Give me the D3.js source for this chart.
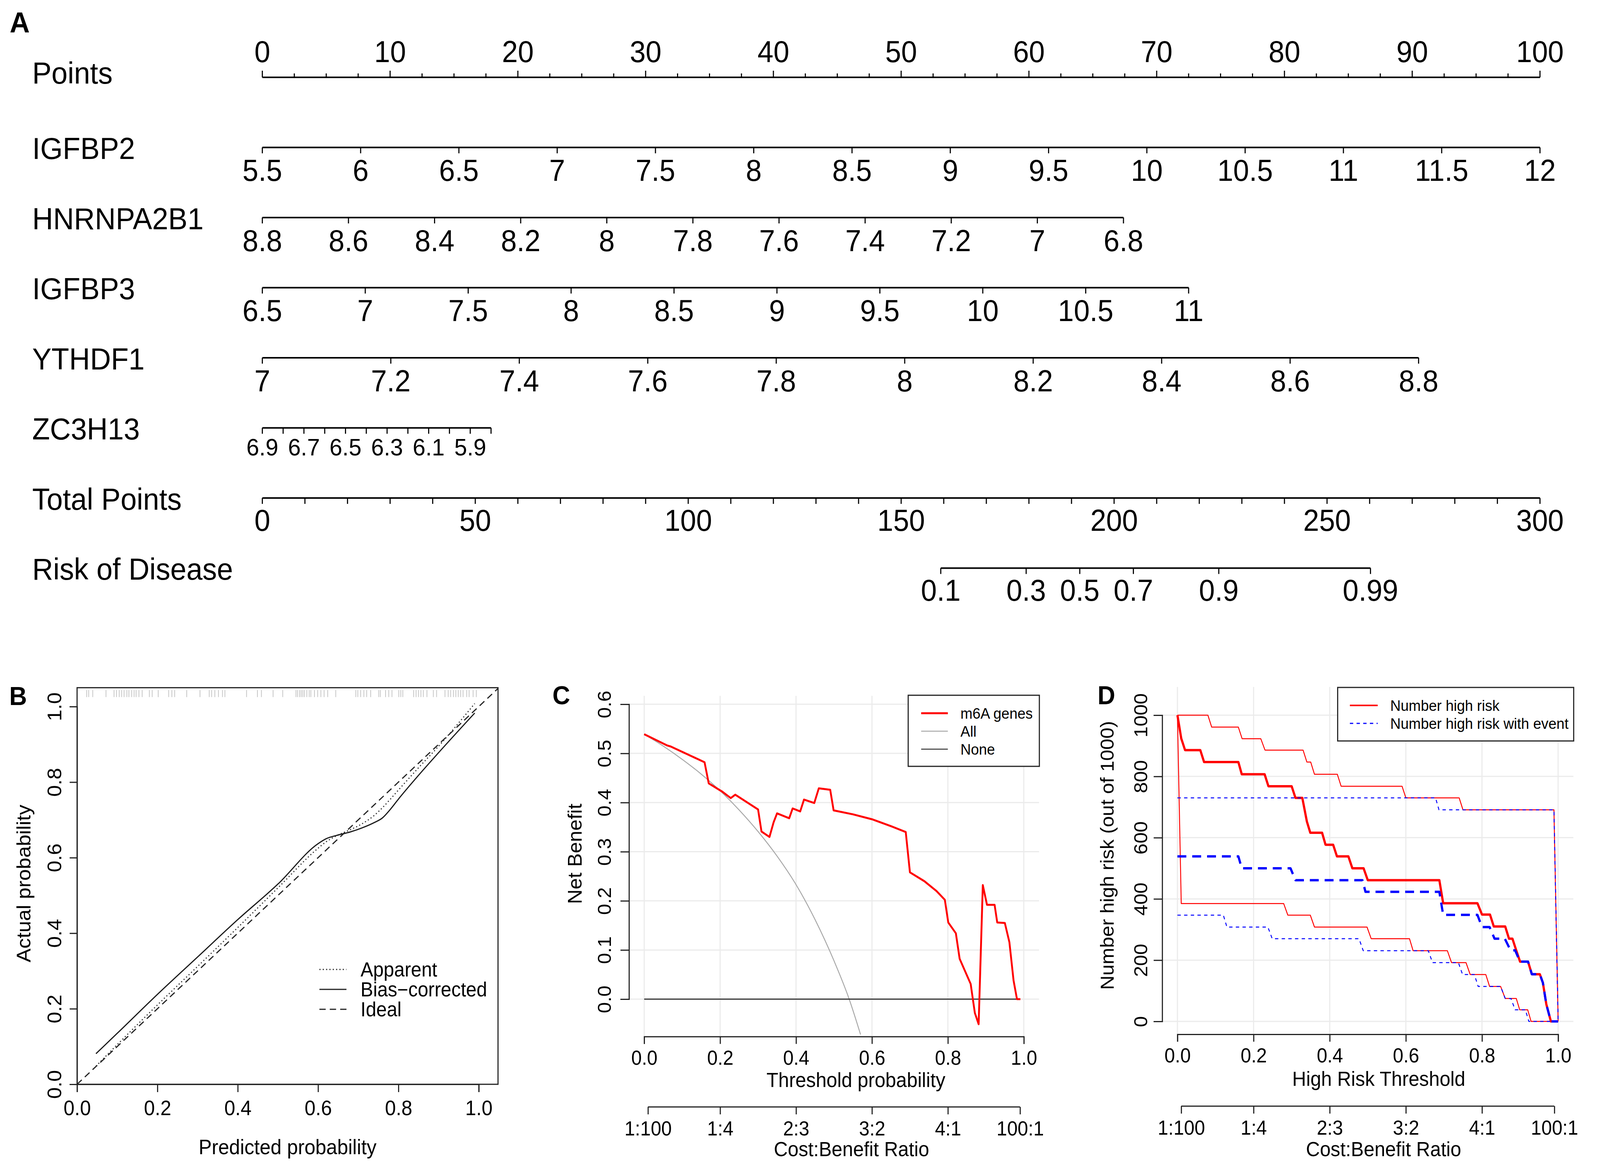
<!DOCTYPE html>
<html>
<head>
<meta charset="utf-8">
<script src="https://cdn.jsdelivr.net/npm/d3@7"></script>
<style>
  html, body { margin: 0; padding: 0; background: #fff; overflow: hidden; }
  #chart svg { display: block; width: 100vw; height: 100vh; }
</style>
</head>
<body>
<div id="chart"></div>
<script>
const FONT = '"Liberation Sans", Arial, Helvetica, sans-serif';

/* ---------- A: nomogram ---------- */
const rowNames = ["Points", "IGFBP2", "HNRNPA2B1", "IGFBP3", "YTHDF1", "ZC3H13", "Total Points", "Risk of Disease"];
const pointTicks = [0, 10, 20, 30, 40, 50, 60, 70, 80, 90, 100];
const pointMinorTicks = [0, 2.5, 5, 7.5, 10, 12.5, 15, 17.5, 20, 22.5, 25, 27.5, 30, 32.5, 35, 37.5, 40, 42.5, 45, 47.5, 50,
  52.5, 55, 57.5, 60, 62.5, 65, 67.5, 70, 72.5, 75, 77.5, 80, 82.5, 85, 87.5, 90, 92.5, 95, 97.5, 100];

const igfbp2Ticks = [5.5, 6, 6.5, 7, 7.5, 8, 8.5, 9, 9.5, 10, 10.5, 11, 11.5, 12];
const igfbp2Span = [5.5, 12];
const igfbp2Points = [0, 100];
const hnrnpTicks = [8.8, 8.6, 8.4, 8.2, 8, 7.8, 7.6, 7.4, 7.2, 7, 6.8];
const hnrnpSpan = [8.8, 6.8];
const hnrnpPoints = [0, 67.4];
const igfbp3Ticks = [6.5, 7, 7.5, 8, 8.5, 9, 9.5, 10, 10.5, 11];
const igfbp3Span = [6.5, 11];
const igfbp3Points = [0, 72.5];
const ythdf1Ticks = [7, 7.2, 7.4, 7.6, 7.8, 8, 8.2, 8.4, 8.6, 8.8];
const ythdf1Span = [7, 8.8];
const ythdf1Points = [0, 90.5];
const zc3h13Ticks = [6.9, 6.8, 6.7, 6.6, 6.5, 6.4, 6.3, 6.2, 6.1, 6.0, 5.9, 5.8];
const zc3h13Labels = [6.9, 6.7, 6.5, 6.3, 6.1, 5.9];
const zc3h13Span = [6.9, 5.8];
const zc3h13Points = [0, 17.9];
const totalTicks = [0, 10, 20, 30, 40, 50, 60, 70, 80, 90, 100, 110, 120, 130, 140, 150, 160, 170, 180, 190, 200,
  210, 220, 230, 240, 250, 260, 270, 280, 290, 300];
const totalLabels = [0, 50, 100, 150, 200, 250, 300];
const riskTicks = [0.1, 0.3, 0.5, 0.7, 0.9, 0.99];
const riskTotalAt = [159.3, 260.2]; // total points at risk 0.1 and 0.99

/* ---------- B: calibration ---------- */
const calPred = [0.047, 0.1, 0.2, 0.3, 0.4, 0.5, 0.6, 0.62, 0.65, 0.68, 0.71, 0.74, 0.76, 0.78, 0.8, 0.85, 0.9, 0.99];
const calBias = [0.081, 0.135, 0.238, 0.337, 0.436, 0.530, 0.637, 0.650, 0.660, 0.668, 0.679, 0.693, 0.705, 0.728,
  0.755, 0.818, 0.878, 0.983];
const calApparent = [0.048, 0.105, 0.21, 0.312, 0.415, 0.52, 0.625, 0.642, 0.66, 0.674, 0.69, 0.712, 0.732, 0.755,
  0.779, 0.838, 0.895, 1.008];
const idealLine = [0, 1.048];
const rugPred = [0.024, 0.029, 0.039, 0.072, 0.092, 0.098, 0.105, 0.111, 0.117, 0.124, 0.129, 0.136, 0.142, 0.147, 0.154,
  0.162, 0.180, 0.187, 0.202, 0.228, 0.236, 0.243, 0.273, 0.306, 0.329, 0.335, 0.343, 0.352, 0.362, 0.368, 0.422, 0.449,
  0.459, 0.488, 0.512, 0.545, 0.549, 0.554, 0.558, 0.562, 0.566, 0.572, 0.578, 0.582, 0.591, 0.599, 0.607, 0.615, 0.624,
  0.644, 0.694, 0.699, 0.706, 0.714, 0.721, 0.731, 0.751, 0.755, 0.768, 0.776, 0.784, 0.801, 0.806, 0.811, 0.838, 0.844,
  0.850, 0.856, 0.862, 0.871, 0.887, 0.895, 0.916, 0.924, 0.930, 0.937, 0.943, 0.949, 0.955, 0.961, 0.970, 0.976, 0.986, 0.994];
const calLegend = ["Apparent", "Bias\u2212corrected", "Ideal"];

/* ---------- C: decision curve ---------- */
const thrTicks = [0, 0.2, 0.4, 0.6, 0.8, 1.0];
const nbTicks = [0, 0.1, 0.2, 0.3, 0.4, 0.5, 0.6];
const modelT = [0, 0.061, 0.070, 0.159, 0.170, 0.206, 0.228, 0.240, 0.300, 0.309, 0.330, 0.341, 0.350, 0.382, 0.391, 0.411,
  0.421, 0.448, 0.460, 0.490, 0.499, 0.55, 0.60, 0.65, 0.689, 0.700, 0.738, 0.770, 0.792, 0.801, 0.821, 0.831, 0.860,
  0.871, 0.881, 0.892, 0.903, 0.923, 0.930, 0.950, 0.962, 0.973, 0.982, 0.991];
const modelNB = [0.539, 0.516, 0.514, 0.482, 0.439, 0.422, 0.409, 0.416, 0.386, 0.341, 0.330, 0.360, 0.378, 0.368, 0.388,
  0.382, 0.406, 0.399, 0.429, 0.426, 0.384, 0.376, 0.366, 0.352, 0.340, 0.258, 0.240, 0.220, 0.202, 0.156, 0.134, 0.082,
  0.031, -0.028, -0.051, 0.232, 0.192, 0.192, 0.156, 0.155, 0.116, 0.038, 0, 0];
const allT = [0, 0.05, 0.1, 0.15, 0.2, 0.25, 0.3, 0.35, 0.4, 0.45, 0.5, 0.54, 0.57];
const allNB = [0.539, 0.515, 0.488, 0.458, 0.424, 0.385, 0.341, 0.291, 0.233, 0.162, 0.078, 0.0, -0.072];
const noneT = [0, 0.99];
const noneNB = [0, 0];
const dcaLegend = ["m6A genes", "All", "None"];
const costLabels = ["1:100", "1:4", "2:3", "3:2", "4:1", "100:1"];
const costRatios = [[1, 100], [1, 4], [2, 3], [3, 2], [4, 1], [100, 1]];

/* ---------- D: clinical impact ---------- */
const countTicks = [0, 200, 400, 600, 800, 1000];
const highT = [0, 0.01, 0.02, 0.06, 0.07, 0.16, 0.169, 0.229, 0.239, 0.30, 0.31, 0.328, 0.34, 0.349, 0.38, 0.389, 0.409,
  0.419, 0.449, 0.4595, 0.489, 0.50, 0.688, 0.698, 0.788, 0.80, 0.821, 0.831, 0.861, 0.871, 0.88, 0.89, 0.90, 0.921,
  0.931, 0.952, 0.96, 0.969, 0.981, 1.0];
const highN = [1000, 924, 886, 886, 847, 847, 807, 807, 768, 768, 730, 730, 653, 616, 616, 577, 577, 539, 539, 500, 500,
  461, 461, 386, 386, 349, 349, 310, 310, 270, 270, 232, 195, 195, 154, 154, 126, 56, 0, 0];
const eventT = [0, 0.16, 0.169, 0.297, 0.31, 0.486, 0.494, 0.688, 0.698, 0.788, 0.80, 0.82, 0.833, 0.86, 0.875, 0.887,
  0.90, 0.921, 0.931, 0.952, 0.96, 0.969, 0.981, 1.0];
const eventN = [539, 539, 500, 500, 461, 461, 423, 423, 348, 348, 308, 308, 270, 270, 232, 232, 195, 195, 154, 154, 126,
  56, 0, 0];
const highUpT = [0, 0.08, 0.09, 0.16, 0.17, 0.219, 0.23, 0.33, 0.34, 0.35, 0.36, 0.42, 0.43, 0.59, 0.60, 0.74, 0.75, 0.989, 1.0];
const highUpN = [1000, 1000, 961, 961, 923, 923, 886, 886, 847, 847, 807, 807, 768, 768, 730, 730, 691, 691, 0];
const highLoT = [0, 0.01, 0.279, 0.29, 0.349, 0.36, 0.498, 0.509, 0.6096, 0.619, 0.709, 0.72, 0.758, 0.769, 0.81, 0.82,
  0.849, 0.861, 0.89, 0.899, 0.92, 0.929, 1.0];
const highLoN = [1000, 385, 385, 347, 347, 308, 308, 270, 270, 231, 231, 192, 192, 153, 153, 114, 114, 75, 75, 38, 38, 0, 0];
const eventUpT = [0, 0.678, 0.687, 0.989, 1.0];
const eventUpN = [730, 730, 691, 691, 0];
const eventLoT = [0, 0.1206, 0.13, 0.2376, 0.249, 0.477, 0.488, 0.659, 0.67, 0.738, 0.749, 0.78, 0.79, 0.849, 0.861,
  0.876, 0.887, 0.914, 0.923, 1.0];
const eventLoN = [347, 347, 308, 308, 270, 270, 231, 231, 192, 192, 153, 153, 114, 114, 75, 75, 38, 38, 0, 0];
const impactLegend = ["Number high risk", "Number high risk with event"];

const svg = d3
  .select("#chart")
  .append("svg")
  .attr("viewBox", "0 0 4318 2998")
  .attr("preserveAspectRatio", "none")
  .style("font-family", FONT);

drawNomogram();
drawCalibration();
drawDecision();
drawImpact();

function panelLetter(txt, x, y, size) {
  svg.append("text")
    .attr("x", x).attr("y", y)
    .attr("font-size", size)
    .attr("font-weight", "bold")
    .text(txt);
}

function scaleRow(y, pos, ticks, labels, fs, dy) {
  const g = svg.append("g").attr("transform", `translate(0, ${y})`);
  const xs = ticks.map(pos);
  g.append("line")
    .attr("x1", d3.min(xs)).attr("x2", d3.max(xs))
    .attr("stroke", "#000").attr("stroke-width", 4);
  g.selectAll("line.tick")
    .data(ticks)
    .join("line")
    .attr("class", "tick")
    .attr("x1", pos).attr("x2", pos)
    .attr("y1", 0).attr("y2", 15)
    .attr("stroke", "#000").attr("stroke-width", 3);
  g.selectAll("text")
    .data(labels)
    .join("text")
    .attr("x", pos)
    .attr("y", dy)
    .attr("text-anchor", "middle")
    .attr("font-size", fs)
    .text((d) => d);
}

function drawNomogram() {
  const xPts = d3.scaleLinear().domain([0, 100]).range([708, 4156]);
  const xTot = d3.scaleLinear().domain([0, 300]).range([708, 4156]);
  const rowY = (i) => 198 + i * 179.5;

  panelLetter("A", 26, 83, 75);

  svg.append("g")
    .selectAll("text")
    .data(rowNames)
    .join("text")
    .attr("x", 87)
    .attr("y", (d, i) => rowY(i) + (i === 0 ? 16 : 30))
    .attr("font-size", 78)
    .text((d) => d);

  /* Points */
  const g0 = svg.append("g").attr("transform", `translate(0, ${rowY(0)})`);
  g0.append("line")
    .attr("x1", xPts(0)).attr("x2", xPts(100))
    .attr("stroke", "#000").attr("stroke-width", 4);
  g0.selectAll("line.tick")
    .data(pointMinorTicks)
    .join("line")
    .attr("class", "tick")
    .attr("x1", xPts).attr("x2", xPts)
    .attr("y1", 0)
    .attr("y2", (d) => (pointTicks.includes(d) ? -17 : -10))
    .attr("stroke", "#000").attr("stroke-width", 3);
  g0.selectAll("text")
    .data(pointTicks)
    .join("text")
    .attr("x", xPts)
    .attr("y", -39)
    .attr("text-anchor", "middle")
    .attr("font-size", 77)
    .text((d) => d);

  const vars = [
    { ticks: igfbp2Ticks, labels: igfbp2Ticks, span: igfbp2Span, pts: igfbp2Points },
    { ticks: hnrnpTicks, labels: hnrnpTicks, span: hnrnpSpan, pts: hnrnpPoints },
    { ticks: igfbp3Ticks, labels: igfbp3Ticks, span: igfbp3Span, pts: igfbp3Points },
    { ticks: ythdf1Ticks, labels: ythdf1Ticks, span: ythdf1Span, pts: ythdf1Points },
    { ticks: zc3h13Ticks, labels: zc3h13Labels, span: zc3h13Span, pts: zc3h13Points },
  ];
  vars.forEach((v, k) => {
    const sc = d3.scaleLinear().domain(v.span).range(v.pts.map(xPts));
    const small = k === 4;
    scaleRow(rowY(k + 1), sc, v.ticks, v.labels, small ? 62 : 77, small ? 71 : 86);
  });

  /* Total points */
  scaleRow(rowY(6), xTot, totalTicks, totalLabels, 77, 84);

  /* Risk, on the logit of the probability */
  const logit = (p) => Math.log(p / (1 - p));
  const xRisk = d3.scaleLinear()
    .domain([logit(0.1), logit(0.99)])
    .range(riskTotalAt.map(xTot));
  scaleRow(rowY(7), (p) => xRisk(logit(p)), riskTicks, riskTicks, 77, 84);
}

function styleAxis(g, fs) {
  g.attr("font-size", fs).attr("font-family", FONT);
  g.selectAll("line, path").attr("stroke", "#222").attr("stroke-width", 3);
}

function drawCalibration() {
  const x = d3.scaleLinear().domain([0, 1]).range([208, 1292]);
  const y = d3.scaleLinear().domain([0, 1]).range([2776, 1809]);
  const xl = [0, 1.048];
  const yl = [0, 1.05];

  panelLetter("B", 25, 1805, 66);

  /* rug of predicted values */
  svg.append("g")
    .selectAll("line")
    .data(rugPred)
    .join("line")
    .attr("x1", x).attr("x2", x)
    .attr("y1", y(yl[1]) + 6).attr("y2", y(yl[1]) + 24)
    .attr("stroke", "#c4c4c4").attr("stroke-width", 2);

  const line = d3.line().x((d) => x(d[0])).y((d) => y(d[1]));

  svg.append("path")
    .datum(idealLine.map((d) => [d, d]))
    .attr("fill", "none").attr("stroke", "#222").attr("stroke-width", 3)
    .attr("stroke-dasharray", "17,11")
    .attr("d", line);
  svg.append("path")
    .datum(calPred.map((d, i) => [d, calApparent[i]]))
    .attr("fill", "none").attr("stroke", "#333").attr("stroke-width", 3)
    .attr("stroke-dasharray", "3,6")
    .attr("d", line.curve(d3.curveMonotoneX));
  svg.append("path")
    .datum(calPred.map((d, i) => [d, calBias[i]]))
    .attr("fill", "none").attr("stroke", "#1a1a1a").attr("stroke-width", 3)
    .attr("d", line.curve(d3.curveMonotoneX));

  svg.append("rect")
    .attr("x", x(xl[0])).attr("y", y(yl[1]))
    .attr("width", x(xl[1]) - x(xl[0]))
    .attr("height", y(yl[0]) - y(yl[1]))
    .attr("fill", "none").attr("stroke", "#222").attr("stroke-width", 3);

  svg.append("g")
    .attr("transform", `translate(0, ${y(0)})`)
    .call(d3.axisBottom(x).tickValues(thrTicks).tickSize(20).tickFormat(d3.format(".1f")))
    .call((g) => styleAxis(g, 53))
    .call((g) => g.selectAll("text").attr("y", 79).attr("dy", null));

  svg.append("g")
    .attr("transform", `translate(${x(0)}, 0)`)
    .call(d3.axisLeft(y).tickValues(thrTicks).tickSize(20).tickFormat(d3.format(".1f")))
    .call((g) => styleAxis(g, 53))
    .call((g) => g.selectAll("text")
      .attr("x", null).attr("dy", null)
      .attr("text-anchor", "middle")
      .attr("transform", "translate(-43, 0) rotate(-90)"));

  svg.append("text")
    .attr("x", 776).attr("y", 2955)
    .attr("text-anchor", "middle").attr("font-size", 53)
    .text("Predicted probability");
  svg.append("text")
    .attr("transform", "translate(82, 2262) rotate(-90)")
    .attr("text-anchor", "middle").attr("font-size", 53)
    .text("Actual probability");

  /* legend */
  const dashes = ["3,6", null, "17,11"];
  const lg = svg.append("g").selectAll("g").data(calLegend).join("g")
    .attr("transform", (d, i) => `translate(0, ${2482 + i * 51})`);
  lg.append("line")
    .attr("x1", 862).attr("x2", 935)
    .attr("stroke", "#222").attr("stroke-width", 3)
    .attr("stroke-dasharray", (d, i) => dashes[i]);
  lg.append("text")
    .attr("x", 973).attr("y", 18)
    .attr("font-size", 51)
    .text((d) => d);
}

function costAxis(x, yPos, labelY) {
  const costP = costRatios.map((r) => r[0] / (r[0] + r[1]));
  svg.append("g")
    .attr("transform", `translate(0, ${yPos})`)
    .call(d3.axisBottom(x).tickValues(costP).tickSize(19).tickFormat((d, i) => costLabels[i]))
    .call((g) => g.select(".domain").remove())
    .call((g) => styleAxis(g, 51))
    .call((g) => g.selectAll("text").attr("y", labelY).attr("dy", null))
    .append("line")
    .attr("x1", x(costP[0])).attr("x2", x(costP[costP.length - 1]))
    .attr("stroke", "#222").attr("stroke-width", 3);
}

function drawDecision() {
  const x = d3.scaleLinear().domain([0, 1]).range([1738.5, 2763]);
  const y = d3.scaleLinear().domain([0, 0.6]).range([2558, 1803]);
  const xl = [-0.04, 1.04];
  const yl = [-0.076, 0.617];

  panelLetter("C", 1491, 1803, 66);

  /* grid */
  const grid = svg.append("g").attr("stroke", "#ebebeb").attr("stroke-width", 3);
  grid.selectAll("line.v").data(thrTicks).join("line").attr("class", "v")
    .attr("x1", x).attr("x2", x).attr("y1", y(yl[0])).attr("y2", y(yl[1]));
  grid.selectAll("line.h").data(nbTicks).join("line").attr("class", "h")
    .attr("x1", x(xl[0])).attr("x2", x(xl[1])).attr("y1", y).attr("y2", y);

  svg.append("clipPath").attr("id", "clipC")
    .append("rect")
    .attr("x", x(xl[0])).attr("y", y(yl[1]) - 40)
    .attr("width", x(xl[1]) - x(xl[0]))
    .attr("height", y(yl[0]) - y(yl[1]) + 40);

  const line = d3.line().x((d) => x(d[0])).y((d) => y(d[1]));

  svg.append("path")
    .datum(allT.map((d, i) => [d, allNB[i]]))
    .attr("clip-path", "url(#clipC)")
    .attr("fill", "none").attr("stroke", "#a8a8a8").attr("stroke-width", 2.5)
    .attr("d", d3.line().x((d) => x(d[0])).y((d) => y(d[1])).curve(d3.curveMonotoneX));
  svg.append("path")
    .datum(noneT.map((d, i) => [d, noneNB[i]]))
    .attr("fill", "none").attr("stroke", "#333").attr("stroke-width", 3)
    .attr("d", line);
  svg.append("path")
    .datum(modelT.map((d, i) => [d, modelNB[i]]))
    .attr("fill", "none").attr("stroke", "#ff0000").attr("stroke-width", 5)
    .attr("stroke-linejoin", "round")
    .attr("d", line);

  svg.append("g")
    .attr("transform", `translate(0, ${y(yl[0])})`)
    .call(d3.axisBottom(x).tickValues(thrTicks).tickSize(19).tickFormat(d3.format(".1f")))
    .call((g) => styleAxis(g, 51))
    .call((g) => g.selectAll("text").attr("y", 72).attr("dy", null));

  svg.append("g")
    .attr("transform", `translate(${x(xl[0])}, 0)`)
    .call(d3.axisLeft(y).tickValues(nbTicks).tickSize(23).tickFormat(d3.format(".1f")))
    .call((g) => styleAxis(g, 51))
    .call((g) => g.selectAll("text")
      .attr("x", null).attr("dy", null)
      .attr("text-anchor", "middle")
      .attr("transform", "translate(-49, 0) rotate(-90)"));

  costAxis(x, 2834, 73);

  svg.append("text")
    .attr("x", 2310).attr("y", 2783)
    .attr("text-anchor", "middle").attr("font-size", 52)
    .text("Threshold probability");
  svg.append("text")
    .attr("x", 2298).attr("y", 2960)
    .attr("text-anchor", "middle").attr("font-size", 52)
    .text("Cost:Benefit Ratio");
  svg.append("text")
    .attr("transform", "translate(1570, 2186) rotate(-90)")
    .attr("text-anchor", "middle").attr("font-size", 52)
    .text("Net Benefit");

  /* legend */
  svg.append("rect")
    .attr("x", 2451).attr("y", 1780).attr("width", 354).attr("height", 182)
    .attr("fill", "#fff").attr("stroke", "#222").attr("stroke-width", 3);
  const cols = ["#ff0000", "#a8a8a8", "#333"];
  const widths = [5, 2.5, 2.5];
  const lg = svg.append("g").selectAll("g").data(dcaLegend).join("g")
    .attr("transform", (d, i) => `translate(0, ${1826 + i * 46})`);
  lg.append("line")
    .attr("x1", 2486).attr("x2", 2558)
    .attr("stroke", (d, i) => cols[i]).attr("stroke-width", (d, i) => widths[i]);
  lg.append("text")
    .attr("x", 2592).attr("y", 14)
    .attr("font-size", 39)
    .text((d) => d);
}

function drawImpact() {
  const x = d3.scaleLinear().domain([0, 1]).range([3177.6, 4205]);
  const y = d3.scaleLinear().domain([0, 1000]).range([2615, 1831]);
  const xl = [-0.04, 1.04];
  const yl = [-42, 1092];

  panelLetter("D", 2962, 1803, 66);

  const grid = svg.append("g").attr("stroke", "#ebebeb").attr("stroke-width", 3);
  grid.selectAll("line.v").data(thrTicks).join("line").attr("class", "v")
    .attr("x1", x).attr("x2", x).attr("y1", y(yl[0])).attr("y2", y(yl[1]));
  grid.selectAll("line.h").data(countTicks).join("line").attr("class", "h")
    .attr("x1", x(xl[0])).attr("x2", x(xl[1])).attr("y1", y).attr("y2", y);

  const line = d3.line().x((d) => x(d[0])).y((d) => y(d[1]));
  const series = [
    { t: highUpT, n: highUpN, color: "#ff0000", w: 2.5, dash: null },
    { t: highLoT, n: highLoN, color: "#ff0000", w: 2.5, dash: null },
    { t: highT, n: highN, color: "#ff0000", w: 6, dash: null },
    { t: eventUpT, n: eventUpN, color: "#0000ff", w: 2.5, dash: "9,9" },
    { t: eventLoT, n: eventLoN, color: "#0000ff", w: 2.5, dash: "9,9" },
    { t: eventT, n: eventN, color: "#0000ff", w: 6, dash: "24,16" },
  ];
  series.forEach((s) => {
    svg.append("path")
      .datum(s.t.map((d, i) => [d, s.n[i]]))
      .attr("fill", "none")
      .attr("stroke", s.color)
      .attr("stroke-width", s.w)
      .attr("stroke-dasharray", s.dash)
      .attr("stroke-linejoin", "round")
      .attr("d", line);
  });

  svg.append("g")
    .attr("transform", `translate(0, ${y(yl[0])})`)
    .call(d3.axisBottom(x).tickValues(thrTicks).tickSize(19).tickFormat(d3.format(".1f")))
    .call((g) => styleAxis(g, 51))
    .call((g) => g.selectAll("text").attr("y", 72).attr("dy", null));

  svg.append("g")
    .attr("transform", `translate(${x(xl[0])}, 0)`)
    .call(d3.axisLeft(y).tickValues(countTicks).tickSize(23).tickFormat(d3.format("d")))
    .call((g) => styleAxis(g, 51))
    .call((g) => g.selectAll("text")
      .attr("x", null).attr("dy", null)
      .attr("text-anchor", "middle")
      .attr("transform", "translate(-40, 0) rotate(-90)"));

  costAxis(x, 2832, 73);

  svg.append("text")
    .attr("x", 3721).attr("y", 2780)
    .attr("text-anchor", "middle").attr("font-size", 52)
    .text("High Risk Threshold");
  svg.append("text")
    .attr("x", 3734).attr("y", 2960)
    .attr("text-anchor", "middle").attr("font-size", 52)
    .text("Cost:Benefit Ratio");
  svg.append("text")
    .attr("transform", "translate(3006, 2190) rotate(-90)")
    .attr("text-anchor", "middle").attr("font-size", 51)
    .text("Number high risk (out of 1000)");

  svg.append("rect")
    .attr("x", 3610).attr("y", 1760).attr("width", 637).attr("height", 137)
    .attr("fill", "#fff").attr("stroke", "#222").attr("stroke-width", 3);
  const cols = ["#ff0000", "#0000ff"];
  const lg = svg.append("g").selectAll("g").data(impactLegend).join("g")
    .attr("transform", (d, i) => `translate(0, ${1806 + i * 46})`);
  lg.append("line")
    .attr("x1", 3643).attr("x2", 3718)
    .attr("stroke", (d, i) => cols[i])
    .attr("stroke-width", (d, i) => (i === 0 ? 4 : 3))
    .attr("stroke-dasharray", (d, i) => (i === 0 ? null : "9,9"));
  lg.append("text")
    .attr("x", 3752).attr("y", 14)
    .attr("font-size", 39)
    .text((d) => d);
}
</script>
</body>
</html>
